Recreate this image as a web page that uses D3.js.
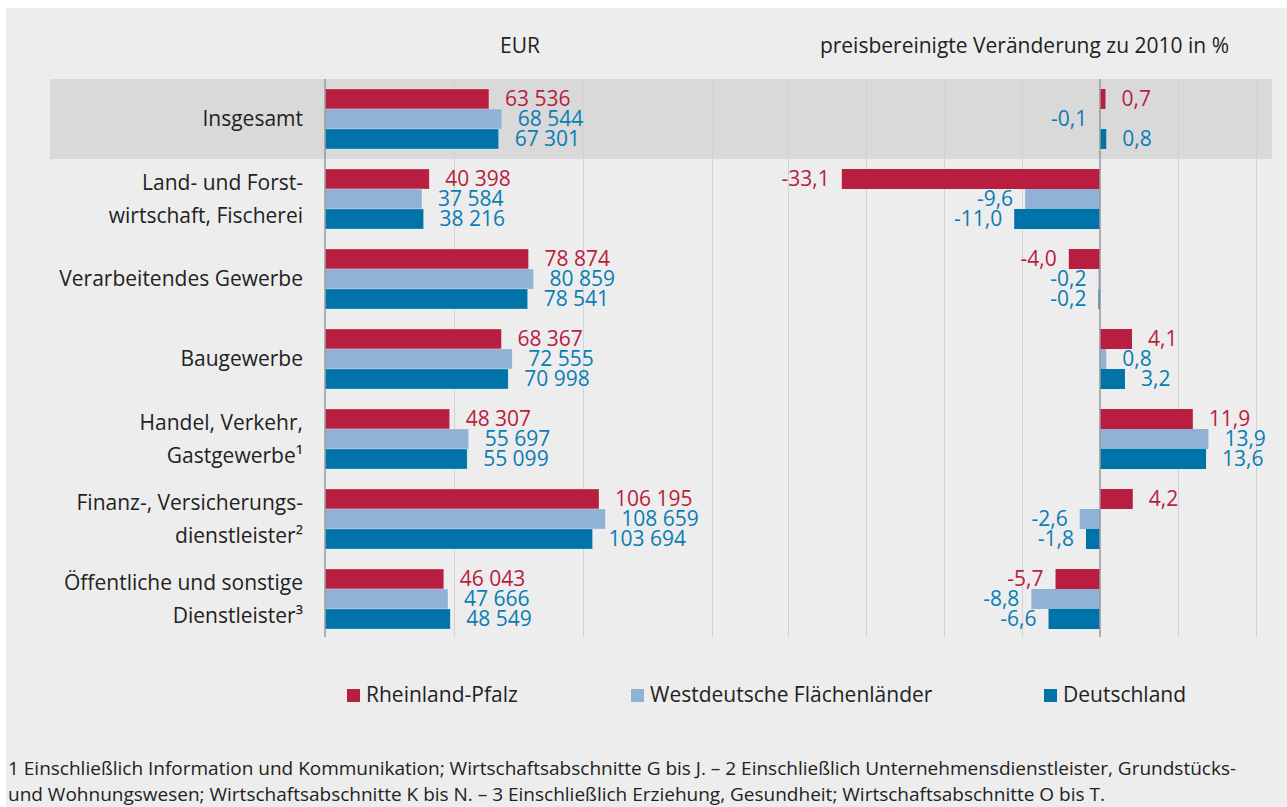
<!DOCTYPE html>
<html>
<head>
<meta charset="utf-8">
<script src="https://cdn.jsdelivr.net/npm/d3@7"></script>
<style>
  body { margin: 0; background: #ffffff; }
  svg { display: block; font-family: "Open Sans", sans-serif; }
</style>
</head>
<body>
<div id="chart"></div>
<script>
// Data
const categories = [
    ["Insgesamt"],
    ["Land- und Forst-", "wirtschaft, Fischerei"],
    ["Verarbeitendes Gewerbe"],
    ["Baugewerbe"],
    ["Handel, Verkehr,", "Gastgewerbe\u00b9"],
    ["Finanz-, Versicherungs-", "dienstleister\u00b2"],
    ["Öffentliche und sonstige", "Dienstleister\u00b3"]
];
const seriesNames = ["Rheinland-Pfalz", "Westdeutsche Flächenländer", "Deutschland"];

// EUR per employee
const eurRP   = [63536, 40398, 78874, 68367, 48307, 106195, 46043];
const eurWest = [68544, 37584, 80859, 72555, 55697, 108659, 47666];
const eurDE   = [67301, 38216, 78541, 70998, 55099, 103694, 48549];

// price-adjusted change vs 2010 in %
const chgRP   = [0.7, -33.1, -4.0, 4.1, 11.9, 4.2, -5.7];
const chgWest = [-0.1, -9.6, -0.2, 0.8, 13.9, -2.6, -8.8];
const chgDE   = [0.8, -11.0, -0.2, 3.2, 13.6, -1.8, -6.6];

const eurTicks = [0, 50000, 100000, 150000];
const chgTicks = [-40, -30, -20, -10, 0, 10, 20];

const leftTitle = "EUR";
const rightTitle = "preisbereinigte Veränderung zu 2010 in %";
const footnotes = [
    "1 Einschließlich Information und Kommunikation; Wirtschaftsabschnitte G bis J. \u2013 2  Einschließlich Unternehmensdienstleister, Grundstücks-",
    "und Wohnungswesen; Wirtschaftsabschnitte K bis N. \u2013 3 Einschließlich Erziehung, Gesundheit; Wirtschaftsabschnitte O bis T."
];

// styles
const barColors = ["#b81e3f", "#90b2d5", "#0074a8"];
const labelColors = ["#b81e3f", "#0a7db5", "#0a7db5"];

const width = 1287, height = 807;

const svg = d3.select("#chart")
              .append("svg")
              .attr("width", width)
              .attr("height", height);

// background
svg.append("rect")
   .attr("x", 6).attr("y", 8)
   .attr("width", width - 6).attr("height", height - 8)
   .attr("fill", "#ededed");

// scales
const xL = d3.scaleLinear().domain([0, 150000]).range([325, 712]);
const xR = d3.scaleLinear().domain([-40, 20]).range([788, 1256]);
const y = d3.scaleBand().domain(d3.range(categories.length)).range([79, 639]);
const ySub = d3.scaleBand().domain([0, 1, 2]).range([10, 70]);

const gridTop = 79, gridBottom = 637;

const de = d3.formatLocale({ decimal: ",", thousands: "\u2009", grouping: [3], currency: ["", ""], minus: "-" });
const fmtEur = v => de.format(",")(v).replace(/\u2009/g, " ");
const fmtPct = de.format(".1f");

// highlight band for "Insgesamt"
svg.append("rect")
   .attr("x", 50)
   .attr("y", y(0))
   .attr("width", 1272 - 50)
   .attr("height", y.bandwidth())
   .attr("fill", "#d9d9d9");

// gridlines via axes
const gridL = svg.append("g")
   .attr("transform", `translate(0, ${gridBottom})`)
   .call(d3.axisBottom(xL).tickValues(eurTicks.slice(1)).tickSize(-(gridBottom - gridTop)).tickFormat(""));
const gridR = svg.append("g")
   .attr("transform", `translate(0, ${gridBottom})`)
   .call(d3.axisBottom(xR).tickValues(chgTicks.filter(d => d !== 0)).tickSize(-(gridBottom - gridTop)).tickFormat(""));
[gridL, gridR].forEach(g => {
    g.select(".domain").remove();
    g.selectAll(".tick line").attr("stroke", "#d2d2d2").attr("stroke-width", 1);
});

const eurData = [eurRP, eurWest, eurDE];
const chgData = [chgRP, chgWest, chgDE];

categories.forEach((lines, i) => {
    const rowTop = y(i);
    const rowMid = rowTop + y.bandwidth() / 2;

    // category label
    const lineGap = 33;
    lines.forEach((t, k) => {
        svg.append("text")
           .attr("x", 303)
           .attr("y", rowMid + (k - (lines.length - 1) / 2) * lineGap)
           .attr("dy", "0.35em")
           .attr("text-anchor", "end")
           .attr("fill", "#222")
           .style("font-size", "21px")
           .text(t);
    });

    [0, 1, 2].forEach(s => {
        const by = rowTop + ySub(s);
        const bh = ySub.bandwidth();

        // left panel: EUR
        const v = eurData[s][i];
        svg.append("rect")
           .attr("x", xL(0))
           .attr("y", by)
           .attr("width", xL(v) - xL(0))
           .attr("height", bh)
           .attr("fill", barColors[s])
           .attr("stroke", "rgba(255,255,255,0.45)")
           .attr("stroke-width", 0.6);
        svg.append("text")
           .attr("x", xL(v) + 16)
           .attr("y", by + bh / 2)
           .attr("dy", "0.35em")
           .attr("fill", labelColors[s])
           .style("font-size", "21px")
           .text(fmtEur(v));

        // right panel: change in %
        const c = chgData[s][i];
        const x0 = xR(Math.min(0, c)), x1 = xR(Math.max(0, c));
        svg.append("rect")
           .attr("x", x0)
           .attr("y", by)
           .attr("width", x1 - x0)
           .attr("height", bh)
           .attr("fill", barColors[s]);
        svg.append("text")
           .attr("x", c < 0 ? xR(c) - 12 : xR(c) + 16)
           .attr("y", by + bh / 2)
           .attr("dy", "0.35em")
           .attr("text-anchor", c < 0 ? "end" : "start")
           .attr("fill", labelColors[s])
           .style("font-size", "21px")
           .text(fmtPct(c));
    });
});

// zero axes
[xL(0), xR(0)].forEach(x => {
    svg.append("line")
       .attr("x1", x).attr("x2", x)
       .attr("y1", gridTop).attr("y2", gridBottom)
       .attr("stroke", "#999")
       .attr("stroke-width", 1.5);
});

// panel titles
svg.append("text")
   .attr("x", 520).attr("y", 46)
   .attr("dy", "0.35em")
   .attr("text-anchor", "middle")
   .attr("fill", "#222")
   .style("font-size", "21px")
   .text(leftTitle);
svg.append("text")
   .attr("x", 1229).attr("y", 46)
   .attr("dy", "0.35em")
   .attr("text-anchor", "end")
   .attr("fill", "#222")
   .style("font-size", "21px")
   .text(rightTitle);

// legend
const legendX = [347, 631, 1044];
seriesNames.forEach((name, s) => {
    svg.append("rect")
       .attr("x", legendX[s])
       .attr("y", 689)
       .attr("width", 13)
       .attr("height", 13)
       .attr("fill", barColors[s]);
    svg.append("text")
       .attr("x", legendX[s] + 19)
       .attr("y", 695)
       .attr("dy", "0.35em")
       .attr("fill", "#222")
       .style("font-size", "21px")
       .text(name);
});

// footnotes
footnotes.forEach((t, k) => {
    svg.append("text")
       .attr("x", 8)
       .attr("y", 768 + k * 26)
       .attr("dy", "0.35em")
       .attr("fill", "#222")
       .style("font-size", "19px")
       .text(t);
});
</script>
</body>
</html>
